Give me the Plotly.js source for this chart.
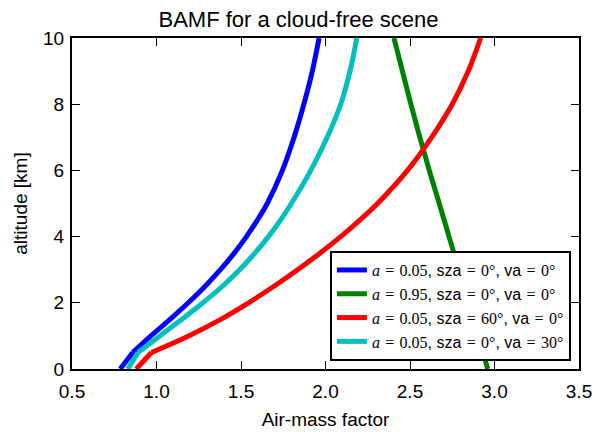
<!DOCTYPE html>
<html>
<head>
<meta charset="utf-8">
<script src="https://cdn.plot.ly/plotly-3.0.1.min.js"></script>
<style>html,body{margin:0;padding:0;background:#fff;}#chart{width:597px;height:432px;}</style>
</head>
<body>
<div id="chart"></div>
<script>
// Altitude grid [km]
const altitude = [0, 0.5, 1, 1.5, 2, 2.5, 3, 3.5, 4, 4.5, 5, 6, 7, 8, 9, 10];
// Air-mass factors
const amfA005Sza0Va0  = [0.785, 0.86, 0.967, 1.08, 1.188, 1.288, 1.378, 1.46, 1.532, 1.597, 1.655, 1.745, 1.814, 1.872, 1.922, 1.962];
const amfA095Sza0Va0  = [2.96, 2.932, 2.904, 2.876, 2.847, 2.818, 2.789, 2.76, 2.731, 2.702, 2.673, 2.614, 2.558, 2.505, 2.455, 2.405];
const amfA005Sza60Va0 = [0.88, 0.97, 1.19, 1.38, 1.545, 1.695, 1.835, 1.967, 2.09, 2.203, 2.308, 2.485, 2.628, 2.75, 2.845, 2.918];
const amfA005Sza0Va30 = [0.83, 0.89, 1.02, 1.15, 1.275, 1.39, 1.492, 1.582, 1.662, 1.734, 1.798, 1.913, 2.01, 2.09, 2.145, 2.185];

const xTickVals = [0.5, 1.0, 1.5, 2.0, 2.5, 3.0, 3.5];
const xTickText = ["0.5", "1.0", "1.5", "2.0", "2.5", "3.0", "3.5"];
const yTickVals = [0, 2, 4, 6, 8, 10];
const seriesColors = ["#0000ff", "#008000", "#ff0000", "#00bfbf"];
// legend parameters: albedo, sza, va
const albedo = ["0.05", "0.95", "0.05", "0.05"];
const sza = ["0", "0", "60", "0"];
const va = ["0", "0", "0", "30"];

const M = "font-family:'Liberation Serif',serif";
const S = "\u2004";
function legendLabel(a, s, v) {
  return `<span style="${M}"><i>a</i>${S}=${S}${a}</span>, sza<span style="${M}">${S}=${S}${s}°</span>, va<span style="${M}">${S}=${S}${v}°</span>`;
}
const amfs = [amfA005Sza0Va0, amfA095Sza0Va0, amfA005Sza60Va0, amfA005Sza0Va30];

const traces = [];
amfs.forEach((xs, i) => {
  // lowest layer: straight segment (sharp kink at its top)
  traces.push({
    x: xs.slice(0, 2), y: altitude.slice(0, 2), type: "scatter", mode: "lines",
    showlegend: false, legendgroup: "g" + i,
    line: {color: seriesColors[i], width: 5}
  });
  // smooth profile above
  traces.push({
    x: xs.slice(1), y: altitude.slice(1), type: "scatter", mode: "lines",
    name: legendLabel(albedo[i], sza[i], va[i]), legendgroup: "g" + i,
    line: {color: seriesColors[i], width: 5, shape: "spline", smoothing: 1}
  });
});

const font = "'Liberation Sans', Arial, sans-serif";
const layout = {
  width: 597, height: 432,
  margin: {l: 72, r: 18, t: 38, b: 63},
  paper_bgcolor: "#fff", plot_bgcolor: "#fff",
  font: {family: font, color: "#000"},
  title: {text: "BAMF for a cloud-free scene", font: {family: font, size: 22, color: "#000"},
          x: 0.5, xref: "container", y: 0.955, yref: "container", yanchor: "middle"},
  xaxis: {
    range: [0.5, 3.5], tickvals: xTickVals, ticktext: xTickText,
    ticks: "inside", ticklen: 8, tickwidth: 1, tickcolor: "#000",
    showline: true, linewidth: 2, linecolor: "#000", mirror: "ticks",
    showgrid: false, zeroline: false,
    tickfont: {family: font, size: 19}, ticklabelstandoff: 4,
    title: {text: "Air-mass factor", font: {family: font, size: 19}, standoff: 12}
  },
  yaxis: {
    range: [0, 10], tickvals: yTickVals,
    ticks: "inside", ticklen: 8, tickwidth: 1, tickcolor: "#000",
    showline: true, linewidth: 2, linecolor: "#000", mirror: "ticks",
    showgrid: false, zeroline: false,
    tickfont: {family: font, size: 19}, ticklabelstandoff: 2,
    title: {text: "altitude [km]", font: {family: font, size: 19}, standoff: 10}
  },
  showlegend: true,
  legend: {
    x: 0.984, xanchor: "right", y: 0.024, yanchor: "bottom",
    bgcolor: "#fff", bordercolor: "#000", borderwidth: 2,
    font: {family: font, size: 16, color: "#000"},
    tracegroupgap: 0
  }
};

Plotly.newPlot("chart", traces, layout, {displayModeBar: false, staticPlot: true});
</script>
</body>
</html>
